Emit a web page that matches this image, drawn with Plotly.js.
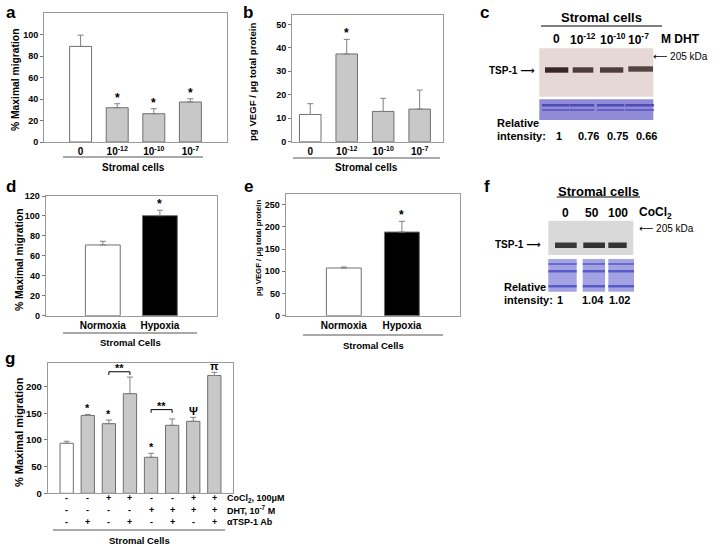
<!DOCTYPE html>
<html><head><meta charset="utf-8">
<script src="https://cdn.plot.ly/plotly-3.0.1.min.js"></script>
<style>html,body{margin:0;padding:0;background:#fff}#chart{width:719px;height:546px}</style>
</head><body><div id="chart"></div>
<script>
// ---------- DATA ----------
// Panel a: migration vs DHT dose
const catA = ['DHT 0 M', 'DHT 10^-12 M', 'DHT 10^-10 M', 'DHT 10^-7 M'];
const tickA = ['0', '10<sup>-12</sup>', '10<sup>-10</sup>', '10<sup>-7</sup>'];
const migA = [88.9, 31.9, 26.3, 37.2];
const errA = [10.5, 3.7, 4.7, 3.0];
const sigA = ['', '*', '*', '*'];
// Panel b: VEGF vs DHT dose
const vegfB = [11.6, 37.4, 12.9, 13.9];
const errB = [4.6, 6.2, 5.6, 8.1];
const sigB = ['', '*', '', ''];
// Panel d / e: normoxia vs hypoxia
const catDE = ['Normoxia', 'Hypoxia'];
const migD = [70.9, 100.3];
const errD = [3.7, 5.4];
const vegfE = [107.4, 188.4];
const errE = [2.2, 24.1];
const sigDE = ['', '*'];
// Panel c / f: western blots
const laneC = ['0', '10<sup>-12</sup>', '10<sup>-10</sup>', '10<sup>-7</sup>'];
const relC = [1, 0.76, 0.75, 0.66];
const relCtxt = ['1', '0.76', '0.75', '0.66'];
const laneF = ['0', '50', '100'];
const relF = [1, 1.04, 1.02];
const relFtxt = ['1', '1.04', '1.02'];
// Panel g: combined treatments
const catG = ['ctrl', 'ab', 'co', 'co_ab', 'dht', 'dht_ab', 'co_dht', 'co_dht_ab'];
const migG = [93.8, 146.0, 130.6, 186.9, 67.5, 127.5, 135.0, 221.0];
const errG = [3.8, 2.0, 6.9, 31.1, 7.5, 11.9, 7.5, 6.0];
const sigG = ['', '*', '*', '', '*', '', 'Ψ', 'π'];
const rowCo = ['-', '-', '+', '+', '-', '-', '+', '+'];
const rowDHT = ['-', '-', '-', '-', '+', '+', '+', '+'];
const rowAb = ['-', '+', '-', '+', '-', '+', '-', '+'];
const rowLabels = ['CoCl<sub>2</sub>, 100μM', 'DHT, 10<sup>-7</sup> M', 'αTSP-1 Ab'];

// ---------- HELPERS ----------
const W = 719, H = 546;
const X = p => p / W;
const Y = p => 1 - p / H;
const FONT = 'Liberation Sans, Arial, sans-serif';
const GRAY = '#c8c8c8', EDGE = '#707070', AX = '#9a9a9a';
const zeros = a => a.map(() => 0);
const bold = (s, c) => ({family: FONT, size: s, color: c || '#000', weight: 'bold'});
const ARR_R = '<span style="font-family:DejaVu Sans">⟶</span>';
const ARR_L = '<span style="font-family:DejaVu Sans">⟵</span>';

function barTrace(x, y, err, colors, ax, w) {
  return {type: 'bar', x: x, y: y, xaxis: 'x' + ax, yaxis: 'y' + ax, width: w,
    marker: {color: colors, line: {color: EDGE, width: 1}},
    error_y: {type: 'data', symmetric: false, array: err, arrayminus: zeros(err),
      color: '#808080', thickness: 1, width: 3},
    hoverinfo: 'skip', showlegend: false};
}
function xAx(l, r, range, tv, tt, show) {
  return {domain: [X(l), X(r)], range: range, type: 'category', showline: true, mirror: true,
    linecolor: AX, linewidth: 1, ticks: '', showgrid: false, zeroline: false,
    tickvals: tv, ticktext: tt, showticklabels: show, tickfont: bold(10), fixedrange: true};
}
function yAx(t, b, range, dtick, tmax, fs) {
  const tv = []; for (let v = 0; v <= tmax + 1e-9; v += dtick) tv.push(v);
  return {domain: [Y(b), Y(t)], range: range, showline: true, mirror: true, linecolor: AX,
    linewidth: 1, ticks: 'outside', ticklen: 3, tickcolor: '#777', showgrid: false,
    zeroline: false, tickvals: tv, tickfont: bold(fs || 9), fixedrange: true};
}

const traces = [
  barTrace(catA, migA, errA, ['#fff', GRAY, GRAY, GRAY], '', 0.6),
  barTrace(catA, vegfB, errB, ['#fff', GRAY, GRAY, GRAY], '2', 0.59),
  barTrace(catDE, migD, errD, ['#fff', '#000'], '3', 0.61),
  barTrace(catDE, vegfE, errE, ['#fff', '#000'], '4', 0.6),
  barTrace(catG, migG, errG, ['#fff', GRAY, GRAY, GRAY, GRAY, GRAY, GRAY, GRAY], '5', 0.63)
];

const layout = {
  width: W, height: H, margin: {l: 0, r: 0, t: 0, b: 0},
  paper_bgcolor: '#fff', plot_bgcolor: '#fff', font: {family: FONT},
  bargap: 0,
  xaxis: xAx(44, 227, [-1, 4], catA, tickA, true),
  yaxis: yAx(13, 142, [0, 120], 20, 100),
  xaxis2: xAx(292, 443, [-0.5, 3.64], catA, tickA, true),
  yaxis2: yAx(15, 141.7, [0, 54], 10, 50),
  xaxis3: xAx(45.7, 217, [-1, 2], catDE, catDE, true),
  yaxis3: yAx(196, 315.7, [0, 120], 20, 120),
  xaxis4: xAx(285.7, 460, [-1, 2], catDE, catDE, true),
  yaxis4: yAx(194, 315.7, [0, 274], 50, 250),
  xaxis5: xAx(47.7, 233.3, [-0.9, 7.9], catG, catG, false),
  yaxis5: yAx(362.7, 493.3, [0, 245], 50, 200, 9.5),
  shapes: [], annotations: []
};
['xaxis', 'xaxis2', 'xaxis3', 'xaxis4', 'xaxis5'].forEach((k, i) => {
  layout[k].anchor = i === 0 ? 'y' : 'y' + (i + 1);
});
['yaxis', 'yaxis2', 'yaxis3', 'yaxis4', 'yaxis5'].forEach((k, i) => {
  layout[k].anchor = i === 0 ? 'x' : 'x' + (i + 1);
});

const A = layout.annotations, S = layout.shapes;
function txt(x, y, t, f, xa, ya, ang) {
  A.push({x: X(x), y: Y(y), xref: 'paper', yref: 'paper', text: t, showarrow: false,
    font: f, xanchor: xa || 'center', yanchor: ya || 'middle', textangle: ang || 0});
}
function hline(x0, x1, y, c, w) {
  S.push({type: 'line', xref: 'paper', yref: 'paper', x0: X(x0), x1: X(x1), y0: Y(y), y1: Y(y),
    line: {color: c || '#555', width: w || 1}});
}
function rect(x0, y0, x1, y1, fill, op) {
  S.push({type: 'rect', xref: 'paper', yref: 'paper', x0: X(x0), x1: X(x1), y0: Y(y0), y1: Y(y1),
    fillcolor: fill, opacity: op == null ? 1 : op, line: {width: 0}, layer: 'above'});
}
function sigMarks(vals, errs, sig, ax, fs, shift) {
  vals.forEach((v, i) => {
    if (!sig[i]) return;
    A.push({x: i, y: v + errs[i], xref: 'x' + ax, yref: 'y' + ax, text: sig[i],
      showarrow: false, font: bold(fs), yanchor: 'bottom', yshift: shift});
  });
}

// panel letters
[['a', 11, 12], ['b', 248, 12], ['c', 484, 12], ['d', 11, 186], ['e', 248, 186],
 ['f', 487, 186], ['g', 10, 358]].forEach(p => txt(p[1], p[2], p[0], bold(17)));

// y-axis titles
txt(15, 80, '% Maximal migration', bold(10.3), 'center', 'middle', -90);
txt(252, 82, 'pg VEGF / μg total protein', bold(9.6), 'center', 'middle', -90);
txt(19, 260, '% Maximal migration', bold(10.3), 'center', 'middle', -90);
txt(259, 248, 'pg VEGF / μg total protein', bold(7.8), 'center', 'middle', -90);
txt(19, 432, '% Maximal migration', bold(11), 'center', 'middle', -90);

// group lines and labels
hline(63, 203, 157); txt(133, 167, 'Stromal cells', bold(10));
hline(293, 440, 158); txt(366.5, 167, 'Stromal cells', bold(10));
hline(63, 197, 333); txt(130, 342, 'Stromal Cells', bold(9.5));
hline(303, 443, 335); txt(373, 345, 'Stromal Cells', bold(9.5));
hline(53, 225, 530); txt(139, 540, 'Stromal Cells', bold(9.5));

// significance marks
sigMarks(migA, errA, sigA, '', 12, -3);
sigMarks(vegfB, errB, sigB, '2', 12, -3);
sigMarks(migD, errD, sigDE, '3', 12, -3);
sigMarks(vegfE, errE, sigDE, '4', 12, -3);
sigMarks(migG, errG, sigG, '5', 11, -2);

// brackets in g
function bracket(i0, i1, yTop, yLeg) {
  S.push({type: 'path', xref: 'x5', yref: 'y5',
    path: `M ${i0} ${yLeg} L ${i0} ${yTop} L ${i1} ${yTop} L ${i1} ${yLeg}`,
    line: {color: '#000', width: 1}});
  A.push({x: (i0 + i1) / 2, y: yTop, xref: 'x5', yref: 'y5', text: '**', showarrow: false,
    font: bold(11), yanchor: 'bottom', yshift: -4});
}
bracket(2, 3, 228, 222);
bracket(4, 5, 157, 151);

// +/- table under g
[rowCo, rowDHT, rowAb].forEach((row, r) => {
  const yy = [498, 510, 522][r];
  row.forEach((s, i) => {
    A.push({x: i, xref: 'x5', y: Y(yy), yref: 'paper', text: s, showarrow: false,
      font: bold(9), yanchor: 'middle'});
  });
  txt(225, yy, rowLabels[r], bold(9), 'left');
});

// ---------- panel c blot ----------
txt(601.7, 18, 'Stromal cells', bold(13));
hline(541, 662, 26, '#000', 1);
const laneXC = [556.7, 582.7, 612.7, 638];
laneC.forEach((l, i) => txt(laneXC[i], 39, l, bold(12)));
txt(680, 39, 'M DHT', bold(12));
rect(539.3, 48.3, 653.3, 96.7, '#e5d8d5');
const bandC = [[545, 568.3], [572.7, 593.3], [600, 623.3], [628.3, 653]];
bandC.forEach((b, i) => rect(b[0], 67.3 - (i === 3 ? 1 : 0), b[1], 72.7 - (i === 3 ? 1 : 0), '#3a2624', 0.5 + 0.5 * relC[i]));
rect(539.3, 99.3, 653.3, 120, '#8f8bd6');
bandC.forEach((b, i) => {
  rect(b[0] - 3, 104, b[1] + 1, 106.5, '#4a42b0', 0.9);
  rect(b[0] - 3, 109, b[1] + 1, 111, '#5a54bd', 0.8);
});
txt(536, 70, 'TSP-1 ' + ARR_R, bold(10), 'right');
txt(651, 57, ARR_L + ' 205 kDa', {family: FONT, size: 10, color: '#000'}, 'left');
txt(495, 122.7, 'Relative', bold(11), 'left');
txt(495, 136, 'intensity:', bold(11), 'left');
const relXC = [559, 588.7, 617, 646.7];
relCtxt.forEach((t, i) => txt(relXC[i], 136, t, bold(11)));

// ---------- panel f blot ----------
txt(598.3, 191, 'Stromal cells', bold(13));
hline(556.7, 640, 197, '#000', 1);
const laneXF = [565, 591.7, 617.7];
laneF.forEach((l, i) => txt(laneXF[i], 212.7, l, bold(12)));
txt(655, 212.7, 'CoCl<sub>2</sub>', bold(12));
rect(548.3, 220.7, 633.3, 255, '#d9d9d9');
const bandF = [[555, 576.7], [583.3, 605], [608.3, 626.7]];
bandF.forEach((b, i) => rect(b[0], 242.5, b[1], 248, '#1c1c1c', Math.min(1, 0.85 * relF[i])));
const cbF = [[548.3, 576.7], [582.7, 605], [608.3, 634]];
cbF.forEach(b => {
  rect(b[0], 259, b[1], 291.7, '#a3a3e3');
  rect(b[0], 263, b[1], 265, '#5a5ac8', 0.8);
  rect(b[0], 270, b[1], 272.5, '#5050c4', 0.85);
  rect(b[0], 285, b[1], 287.5, '#4e4ec2', 0.85);
});
txt(542, 245, 'TSP-1 ' + ARR_R, bold(10), 'right');
txt(637.3, 228.7, ARR_L + ' 205 kDa', {family: FONT, size: 10, color: '#000'}, 'left');
txt(501.7, 286.7, 'Relative', bold(11), 'left');
txt(501.7, 300, 'intensity:', bold(11), 'left');
const relXF = [560, 593.3, 619.3];
relFtxt.forEach((t, i) => txt(relXF[i], 300, t, bold(11)));

Plotly.newPlot('chart', traces, layout, {staticPlot: true, displayModeBar: false});
</script></body></html>
